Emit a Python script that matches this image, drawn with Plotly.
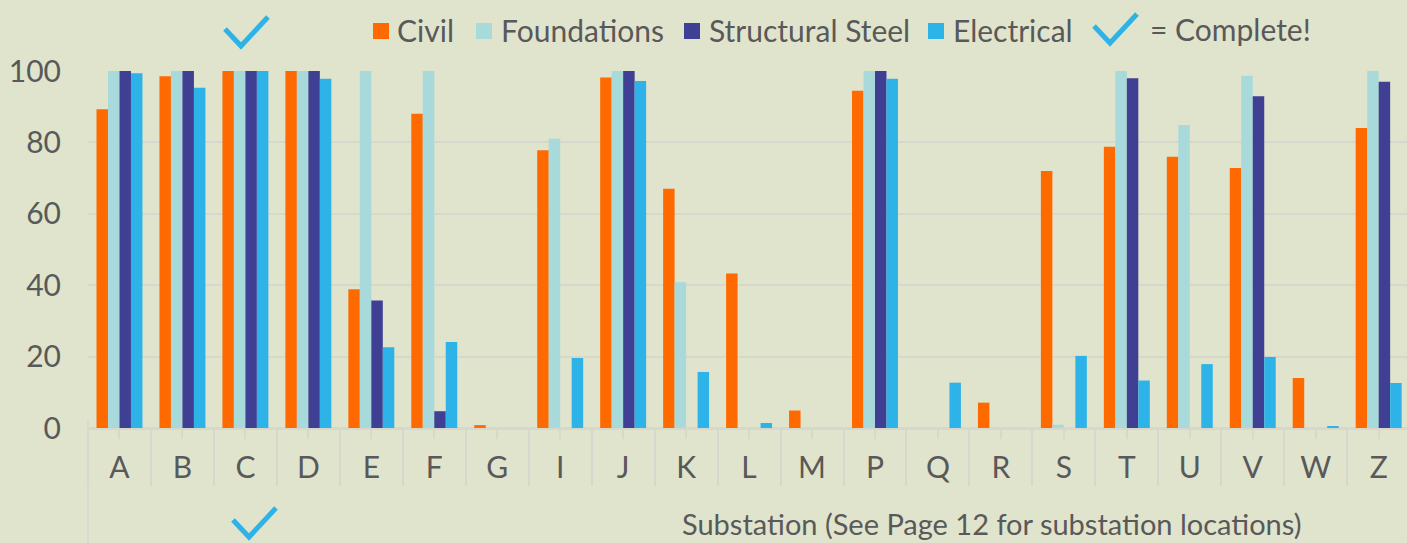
import plotly.graph_objects as go

categories = ["A", "B", "C", "D", "E", "F", "G", "I", "J", "K", "L", "M",
              "P", "Q", "R", "S", "T", "U", "V", "W", "Z"]
civil = [89.3, 98.5, 100, 100, 38.9, 88, 0.8, 77.8, 98.2, 67, 43.3, 4.9,
         94.5, 0, 7.1, 72, 78.8, 76, 72.8, 14, 84]
foundations = [100, 100, 100, 100, 100, 100, 0, 81, 100, 40.8, 0, 0,
               100, 0, 0, 0.9, 100, 84.9, 98.7, 0, 100]
structural_steel = [100, 100, 100, 100, 35.7, 4.7, 0, 0, 100, 0, 0, 0,
                    100, 0, 0, 0, 98, 0, 92.9, 0, 97]
electrical = [99.4, 95.3, 100, 97.8, 22.6, 24.1, 0, 19.6, 97.2, 15.7, 1.4, 0,
              97.8, 12.7, 0, 20.2, 13.3, 17.9, 19.9, 0.3, 12.6]

series_names = ["Civil", "Foundations", "Structural Steel", "Electrical"]
series_values = [civil, foundations, structural_steel, electrical]
series_colors = ["#FF6A00", "#A8DADC", "#3F3F94", "#2DB3E8"]

BG = "#E0E4CD"
GRID = "#D6D8CC"
TXT = "#595959"
FONT = "Lato"
CHECK = "#2DB3E8"
FS = 30

W, H = 1407, 543
L, R, T, B = 88, 0, 71, 115
pw, ph = W - L - R, H - T - B
XMAX = len(categories) - 0.55


def px_x(x):
    return (x - L) / pw


def px_y(y):
    return (H - B - y) / ph


fig = go.Figure()
for name, vals, color in zip(series_names, series_values, series_colors):
    fig.add_bar(x=categories, y=vals, name=name, marker_color=color,
                marker_line_width=0, showlegend=False)

shapes = []
annotations = []

# manual legend (square swatch + label)
legend_square_x = [373, 476, 684, 928]
legend_text_x = [395, 499, 707, 951]
for name, color, sx, tx in zip(series_names, series_colors,
                               legend_square_x, legend_text_x):
    shapes.append(dict(type="rect", xref="paper", yref="paper",
                       x0=px_x(sx), x1=px_x(sx + 16),
                       y0=px_y(39), y1=px_y(23),
                       fillcolor=color, line=dict(width=0)))
    annotations.append(dict(text=name, xref="paper", yref="paper",
                            x=px_x(tx), y=px_y(30), xanchor="left",
                            yanchor="middle", showarrow=False,
                            font=dict(size=FS, color=TXT, family=FONT)))

check_path = "M -16 17 L 0 0 L 27 29"
for (cx, cy) in [(241, 46), (249, 537), (1110, 43)]:
    shapes.append(dict(type="path", xref="paper", yref="paper",
                       xsizemode="pixel", ysizemode="pixel",
                       xanchor=px_x(cx), yanchor=px_y(cy),
                       path=check_path, line=dict(color=CHECK, width=5),
                       fillcolor="rgba(0,0,0,0)"))
# long left divider line
shapes.append(dict(type="line", xref="paper", yref="paper", x0=0, x1=0,
                   y0=px_y(545), y1=px_y(420),
                   line=dict(color=GRID, width=1.5)))

annotations += [
    dict(text="= Complete!", xref="paper", yref="paper", x=px_x(1148),
         y=px_y(29), xanchor="left", yanchor="middle", showarrow=False,
         font=dict(size=FS, color=TXT, family=FONT)),
    dict(text="Substation (See Page 12 for substation locations)",
         xref="paper", yref="paper", x=px_x(680), y=px_y(523),
         xanchor="left", yanchor="middle", showarrow=False,
         font=dict(size=29, color=TXT, family=FONT)),
]

fig.update_layout(
    width=W, height=H,
    margin=dict(l=L, r=R, t=T, b=B),
    paper_bgcolor=BG, plot_bgcolor=BG,
    font=dict(family=FONT, color=TXT, size=FS),
    barmode="group", bargap=0.27, bargroupgap=0,
    showlegend=False,
    xaxis=dict(type="category", categoryorder="array", categoryarray=categories,
               range=[-0.5, XMAX],
               ticks="outside", ticklen=9, tickcolor=GRID, tickwidth=1.5,
               showline=True, linecolor=GRID, linewidth=1.5,
               ticklabelstandoff=3,
               showgrid=False, tickfont=dict(size=FS, color=TXT, family=FONT)),
    xaxis2=dict(overlaying="x", anchor="y", type="linear",
                range=[-0.5, XMAX],
                tickmode="array",
                tickvals=[i - 0.5 for i in range(len(categories) + 1)],
                ticks="outside", ticklen=57, tickcolor=GRID, tickwidth=1.5,
                showticklabels=False, showgrid=False, showline=False,
                zeroline=False, side="bottom"),
    yaxis=dict(range=[0, 100], dtick=20, showgrid=True, gridcolor=GRID,
               gridwidth=1.5, zeroline=True, zerolinecolor=GRID,
               zerolinewidth=1.5, showline=False, ticks="",
               ticklabelstandoff=26,
               tickfont=dict(size=FS, color=TXT, family=FONT)),
    shapes=shapes,
    annotations=annotations,
)

# invisible trace to activate the boundary-tick overlay axis
fig.add_scatter(x=[None], y=[None], xaxis="x2", showlegend=False,
                hoverinfo="skip")

fig.write_html("out.html",
               config={"displayModeBar": False},
               post_script="document.body.style.margin='0';"
                           "document.body.style.overflow='hidden';")
